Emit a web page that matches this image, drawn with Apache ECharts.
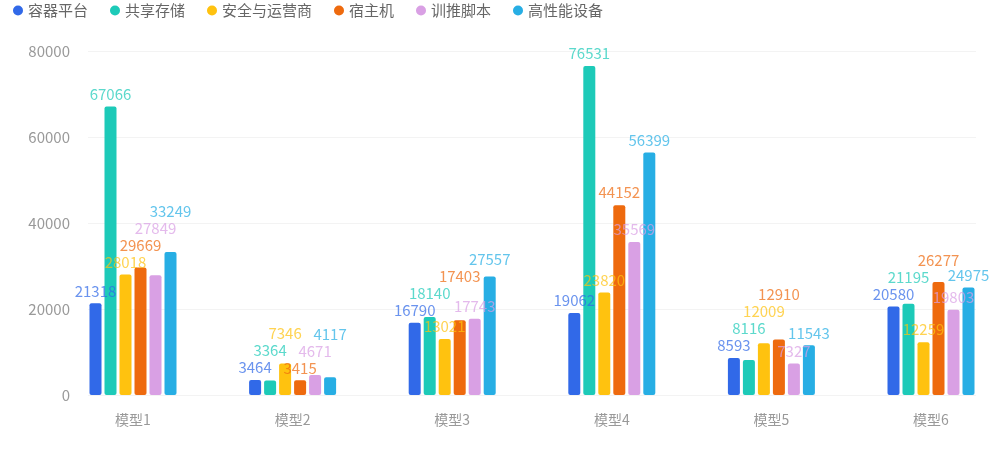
<!DOCTYPE html>
<html>
<head>
<meta charset="utf-8">
<script src="https://cdn.jsdelivr.net/npm/echarts@6/dist/echarts.min.js"></script>
<style>
  html, body { margin: 0; padding: 0; background: #fff; }
  #chart { width: 1000px; height: 453px; }
</style>
</head>
<body>
<div id="chart"></div>
<script>
// categories / series names
const models = ["模型1", "模型2", "模型3", "模型4", "模型5", "模型6"];
const seriesNames = ["容器平台", "共享存储", "安全与运营商", "宿主机", "训推脚本", "高性能设备"];

// values per series, one per model
const rongqi = [21318, 3464, 16790, 19062, 8593, 20580];
const gongxiang = [67066, 3364, 18140, 76531, 8116, 21195];
const anquan = [28018, 7346, 13021, 23820, 12009, 12259];
const suzhuji = [29669, 3415, 17403, 44152, 12910, 26277];
const xuntui = [27849, 4671, 17743, 35569, 7327, 19803];
const gaoxingneng = [33249, 4117, 27557, 56399, 11543, 24975];
const seriesData = [rongqi, gongxiang, anquan, suzhuji, xuntui, gaoxingneng];

const yTicks = [0, 20000, 40000, 60000, 80000];
const colors = ["#3169E8", "#1DCAB8", "#FFC20F", "#EE6A0E", "#D9A0E4", "#27AEE4"];

const chart = echarts.init(document.getElementById("chart"));
const font = "'Noto Sans CJK SC', 'Noto Sans', sans-serif";
const labelSize = 15;
const labelDist = 5;
const labelH = 17;      // step when a label is pushed up
const overlapH = 15;    // vertical closeness that counts as a clash

function buildSeries(offsets) {
  return seriesNames.map((name, i) => ({
    name: name,
    type: "bar",
    xAxisIndex: 1,
    yAxisIndex: 1,
    barWidth: 12,
    barGap: "25%",
    itemStyle: { borderRadius: 2 },
    label: {
      show: true,
      position: "top",
      distance: labelDist,
      color: colors[i],
      opacity: 0.72,
      fontSize: labelSize,
      fontFamily: font,
    },
    data: seriesData[i].map((v, j) =>
      offsets ? { value: v, label: { offset: [0, offsets[i][j]] } } : v
    ),
  }));
}

chart.setOption({
  color: colors,
  textStyle: { fontFamily: font },
  legend: {
    left: 8,
    top: 0,
    padding: [3, 5],
    icon: "circle",
    itemWidth: 10,
    itemHeight: 10,
    itemGap: 22,
    textStyle: { color: "#666", fontSize: 15, fontFamily: font },
    data: seriesNames,
  },
  grid: [
    // background grid: y labels and split lines
    { left: 88, right: 24, top: 51, bottom: 58 },
    // bars
    { left: 133, right: 69, top: 51, bottom: 58 },
  ],
  xAxis: [
    { gridIndex: 0, type: "value", show: false, min: 0, max: 1 },
    {
      gridIndex: 1,
      type: "category",
      boundaryGap: false,
      data: models,
      axisLine: { show: false },
      axisTick: { show: false },
      axisLabel: { color: "#999", fontSize: 14, margin: 18, fontFamily: font },
    },
  ],
  yAxis: [
    {
      gridIndex: 0,
      type: "value",
      min: yTicks[0],
      max: yTicks[yTicks.length - 1],
      interval: yTicks[1] - yTicks[0],
      axisLine: { show: false },
      axisTick: { show: false },
      axisLabel: {
        color: "#999",
        fontSize: 15,
        margin: 18,
        fontFamily: font,
        formatter: (v) => String(v),
      },
      splitLine: { lineStyle: { color: "#f3f3f3" } },
    },
    {
      gridIndex: 1,
      type: "value",
      show: false,
      min: yTicks[0],
      max: yTicks[yTicks.length - 1],
    },
  ],
  series: buildSeries(null),
});

// push overlapping value labels upward, series by series
const ctx = document.createElement("canvas").getContext("2d");
ctx.font = labelSize + "px " + font;
const placed = [];
const offsets = seriesData.map(() => []);
seriesData.forEach((arr, i) => {
  const data = chart.getModel().getSeriesByIndex(i).getData();
  arr.forEach((v, j) => {
    const l = data.getItemLayout(j);
    const x = l.x + l.width / 2;
    const top = Math.min(l.y, l.y + l.height);
    const base = top - labelDist - labelH / 2;
    const w = ctx.measureText(String(v)).width;
    let cy = base;
    let moved = true;
    while (moved) {
      moved = false;
      for (const p of placed) {
        if (Math.abs(p.x - x) < (p.w + w) / 2 && Math.abs(p.cy - cy) < overlapH) {
          cy = p.cy - labelH;
          moved = true;
        }
      }
    }
    placed.push({ x: x, cy: cy, w: w });
    offsets[i][j] = cy - base;
  });
});
chart.setOption({ series: buildSeries(offsets) });
</script>
</body>
</html>
